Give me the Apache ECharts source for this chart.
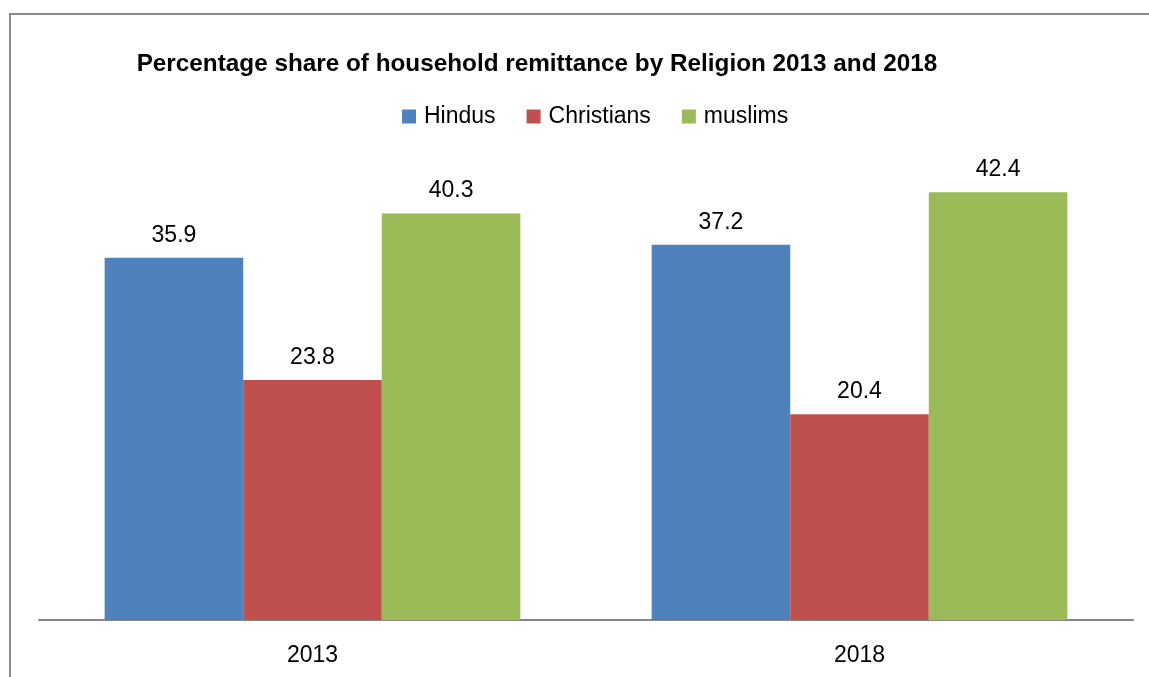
<!DOCTYPE html>
<html>
<head>
<meta charset="utf-8">
<script src="https://cdn.jsdelivr.net/npm/echarts@6/dist/echarts.min.js"></script>
<style>
  html, body { margin: 0; padding: 0; background: #fff; }
  #chart { width: 1149px; height: 677px; }
</style>
</head>
<body>
<div id="chart"></div>
<script>
// Remittance share by religion, survey years 2013 and 2018
const years = ['2013', '2018'];
const hindus = [35.9, 37.2];
const christians = [23.8, 20.4];
const muslims = [40.3, 42.4];

const font = 'Liberation Sans, Arial, sans-serif';
const chart = echarts.init(document.getElementById('chart'), null, { renderer: 'canvas' });

function barSeries(name, data, color) {
  return {
    name: name,
    type: 'bar',
    data: data,
    barGap: '0%',
    barCategoryGap: '24%',
    itemStyle: { color: color },
    label: {
      show: true,
      position: 'top',
      distance: 11,
      color: '#000',
      fontFamily: font,
      fontSize: 23
    }
  };
}

chart.setOption({
  backgroundColor: '#fff',
  animation: false,
  graphic: [{
    type: 'rect',
    shape: { x: 10, y: 14, width: 1300, height: 800 },
    style: { fill: 'none', stroke: '#8c8c8c', lineWidth: 2 },
    silent: true,
    z: -1
  }],
  title: {
    text: 'Percentage share of household remittance by Religion 2013 and 2018',
    left: 532,
    textAlign: 'center',
    top: 47,
    textStyle: { fontFamily: font, fontWeight: 'bold', fontSize: 24.3, color: '#000' }
  },
  legend: {
    top: 100,
    left: 397,
    itemWidth: 14,
    itemHeight: 14,
    itemGap: 31,
    icon: 'rect',
    textStyle: { fontFamily: font, fontSize: 23, color: '#000', padding: [0, 0, 0, 3] },
    data: ['Hindus', 'Christians', 'muslims']
  },
  grid: { left: 39, right: 16, top: 166, bottom: 57, containLabel: false },
  xAxis: {
    type: 'category',
    data: years,
    axisLine: { lineStyle: { color: '#868686', width: 2 } },
    axisTick: { show: false },
    axisLabel: { color: '#000', fontFamily: font, fontSize: 23, margin: 24 }
  },
  yAxis: {
    type: 'value',
    min: 0,
    max: 45,
    show: false,
    splitLine: { show: false }
  },
  series: [
    barSeries('Hindus', hindus, '#4f81bd'),
    barSeries('Christians', christians, '#c0504d'),
    barSeries('muslims', muslims, '#9bbb59')
  ]
});
</script>
</body>
</html>
